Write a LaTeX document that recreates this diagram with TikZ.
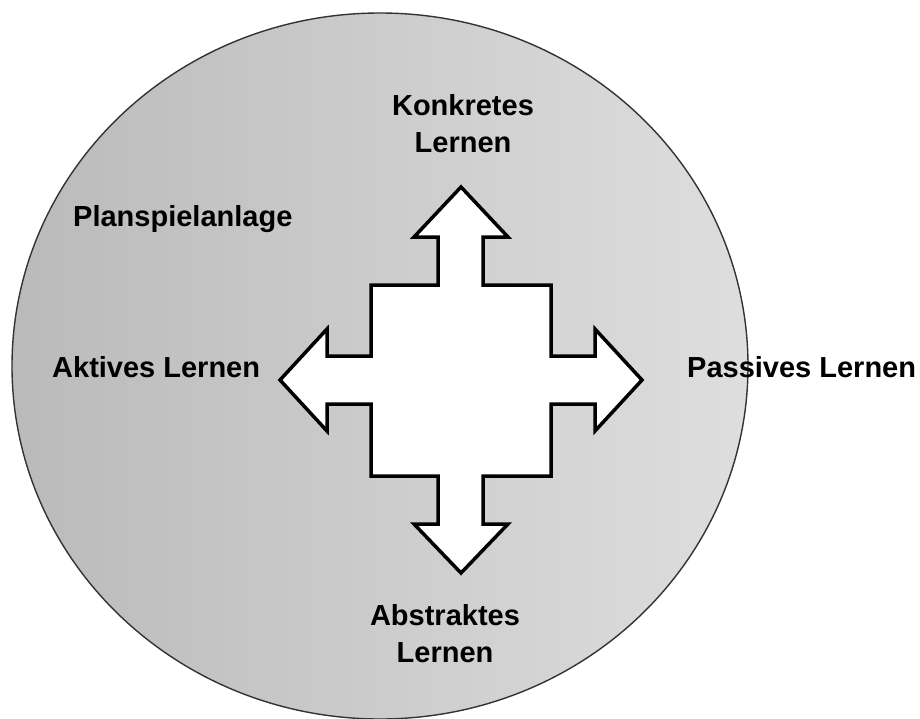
\documentclass[tikz,border=0pt]{standalone}
\usepackage{fontspec}
\setmainfont{Liberation Sans}
\begin{document}
\begin{tikzpicture}[x=1pt,y=-1pt,
  label/.style={font=\bfseries\fontsize{29}{37}\selectfont, inner sep=0pt, align=center, anchor=base},
  arrowshape/.style={draw=black, line width=3.5pt, fill=white, line join=miter},
  ring/.style={draw=black!80, line width=1.4pt, left color={rgb,255:red,186;green,186;blue,186}, right color={rgb,255:red,222;green,222;blue,222}}]
\useasboundingbox (0,0) rectangle (920,718);
% shaded ellipse in the background
\path[ring] (380,366) ellipse [x radius=368, y radius=353];
% four-way arrow
\path[arrowshape] (461,187) -- (508,237) -- (483,237) -- (483,285) -- (551,285) -- (551,356)
  -- (595,356) -- (595,329) -- (642,380) -- (595,431) -- (595,404) -- (551,404)
  -- (551,476) -- (483,476) -- (483,524) -- (508,524) -- (461,573) -- (414,524)
  -- (438,524) -- (438,476) -- (371,476) -- (371,404) -- (327,404) -- (327,431)
  -- (280,380) -- (327,329) -- (327,356) -- (371,356) -- (371,285) -- (438,285)
  -- (438,237) -- (414,237) -- cycle;
% labels (base anchor sits on the last line)
\node[label] (konkret) at (463,152) {Konkretes\\Lernen};
\node[label] (abstrakt) at (445,662) {Abstraktes\\Lernen};
\node[label, anchor=base west] (anlage) at (73,226) {Planspielanlage};
\node[label, anchor=base west] (aktiv) at (52,377) {Aktives Lernen};
\node[label, anchor=base west] (passiv) at (687,377) {Passives Lernen};
\end{tikzpicture}
\end{document}
